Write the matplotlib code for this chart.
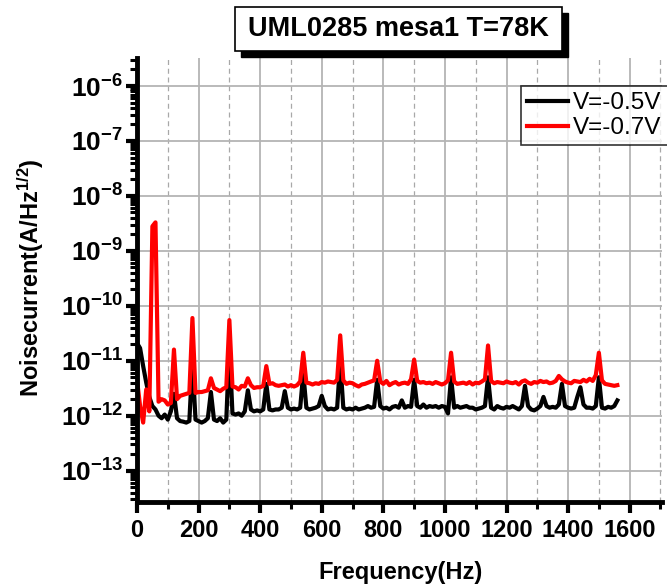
import numpy as np
import matplotlib
matplotlib.use("Agg")
import matplotlib.pyplot as plt
from matplotlib.ticker import FixedLocator, FuncFormatter, LogLocator, NullFormatter
from matplotlib.patches import Rectangle

plt.rcParams['font.family'] = ['Liberation Sans', 'DejaVu Sans']
plt.rcParams['mathtext.fontset'] = 'custom'
plt.rcParams['mathtext.rm'] = 'Liberation Sans'
plt.rcParams['mathtext.bf'] = 'Liberation Sans:bold'
plt.rcParams['mathtext.default'] = 'bf'

# ---------------- data ----------------
title = "UML0285 mesa1 T=78K"
series_labels = ["V=-0.5V", "V=-0.7V"]
series_colors = ["black", "red"]

freq_hz = np.arange(0, 1561, 10)  # sampling grid, 10 Hz step

# noise current in units of 1e-12 A/Hz^1/2
noise_v05_pA = [
    21, 17, 8, 4.0, 2.2, 1.5, 1.3, 1.0, 0.9, 1.05,            # 0-90
    0.85, 1.2, 2.5, 0.9, 0.8, 0.78, 0.75, 0.8, 10, 0.85,      # 100-190
    0.8, 0.75, 0.8, 0.9, 2.7, 0.85, 0.8, 0.9, 0.75, 0.85,     # 200-290
    20, 1.1, 1.05, 1.1, 1.0, 1.2, 2.9, 1.3, 1.2, 1.25,        # 300-390
    1.2, 1.3, 3.8, 1.3, 1.25, 1.3, 1.3, 1.4, 2.8, 1.4,        # 400-490
    1.3, 1.35, 1.3, 1.4, 6.0, 1.4, 1.3, 1.35, 1.4, 1.5,       # 500-590
    2.3, 1.5, 1.3, 1.35, 1.3, 1.4, 10, 1.4, 1.3, 1.35,        # 600-690
    1.3, 1.4, 1.3, 1.35, 1.4, 1.5, 1.4, 1.45, 4.5, 1.5,       # 700-790
    1.35, 1.4, 1.3, 1.45, 1.5, 1.4, 1.9, 1.4, 1.5, 1.45,      # 800-890
    4.5, 1.5, 1.4, 1.6, 1.4, 1.5, 1.45, 1.5, 1.4, 1.5,        # 900-990
    1.45, 1.1, 5.0, 1.4, 1.5, 1.4, 1.45, 1.5, 1.4, 1.4,       # 1000-1090
    1.3, 1.35, 1.4, 1.5, 5.0, 1.4, 1.3, 1.5, 1.4, 1.35,       # 1100-1190
    1.45, 1.4, 1.5, 1.4, 1.3, 1.5, 3.5, 1.5, 1.3, 1.25,       # 1200-1290
    1.35, 1.5, 2.2, 1.5, 1.4, 1.45, 1.4, 1.6, 3.8, 1.5,       # 1300-1390
    1.4, 1.35, 1.4, 2.2, 3.3, 1.6, 1.4, 1.4, 1.35, 1.5,       # 1400-1490
    5.0, 1.4, 1.35, 1.45, 1.4, 1.5, 1.9,                      # 1500-1560
]

noise_v07_pA = [
    4.5, 1.5, 0.75, 3.0, 1.2, 2800, 3300, 1.8, 2.0, 1.9,      # 0-90
    1.6, 1.7, 16, 2.0, 2.3, 2.4, 2.5, 2.6, 60, 2.6,           # 100-190
    2.7, 2.7, 2.8, 2.9, 4.8, 3.2, 3.0, 2.8, 3.1, 3.3,         # 200-290
    55, 3.4, 3.3, 3.0, 3.5, 3.4, 4.8, 3.6, 3.2, 3.3,          # 300-390
    3.3, 3.5, 8.0, 3.8, 3.9, 3.6, 3.5, 3.6, 3.7, 3.4,         # 400-490
    3.6, 3.4, 3.6, 4.2, 14, 4.0, 3.9, 3.7, 3.9, 3.8,          # 500-590
    4.1, 4.0, 4.2, 4.1, 4.0, 4.5, 29, 4.4, 3.8, 4.0,          # 600-690
    3.9, 3.6, 3.4, 3.7, 3.8, 4.0, 4.2, 4.4, 10, 4.2,          # 700-790
    3.8, 4.3, 3.6, 3.9, 4.1, 3.7, 3.9, 4.0, 3.8, 4.6,         # 800-890
    10.5, 4.3, 4.0, 4.1, 3.9, 4.0, 3.8, 4.1, 3.9, 3.7,        # 900-990
    3.9, 4.4, 14, 4.2, 3.8, 3.9, 4.0, 3.8, 4.1, 3.7,          # 1000-1090
    4.0, 3.9, 4.2, 4.6, 19, 4.3, 3.9, 4.1, 4.0, 3.9,          # 1100-1190
    4.2, 4.0, 3.9, 4.1, 3.7, 4.2, 4.4, 4.0, 3.8, 4.1,         # 1200-1290
    4.0, 4.3, 4.1, 4.2, 3.9, 4.0, 4.3, 5.3, 4.6, 4.2,         # 1300-1390
    4.0, 3.9, 4.3, 4.2, 4.1, 4.5, 4.2, 4.7, 4.3, 5.5,         # 1400-1490
    14, 4.4, 3.8, 3.7, 3.6, 3.5, 3.6,                         # 1500-1560
]

x_ticks = [0, 200, 400, 600, 800, 1000, 1200, 1400, 1600]
y_decades = [-13, -12, -11, -10, -9, -8, -7, -6]

# ---------------- figure ----------------
W, H = 667, 588
fig = plt.figure(figsize=(W / 100, H / 100), dpi=100)
ax = fig.add_axes([137 / W, 1 - 502 / H, (662 - 137) / W, (502 - 58) / H])

series = [noise_v05_pA, noise_v07_pA]
for vals, lab, col in zip(series, series_labels, series_colors):
    ax.plot(freq_hz, np.array(vals) * 1e-12, color=col, lw=3.0, label=lab,
            solid_joinstyle='round')

ax.set_yscale('log')
ax.set_xlim(0, 1705)
ax.set_ylim(10 ** -13.57, 10 ** -5.49)

ax.xaxis.set_major_locator(FixedLocator(x_ticks))
ax.xaxis.set_minor_locator(FixedLocator([t + 100 for t in x_ticks]))
ax.yaxis.set_major_locator(FixedLocator([10.0 ** d for d in y_decades]))
ax.yaxis.set_minor_locator(LogLocator(base=10, subs=np.arange(2, 10), numticks=20))
ax.yaxis.set_minor_formatter(NullFormatter())
ax.yaxis.set_major_formatter(FuncFormatter(
    lambda v, p: r'$\mathbf{10^{%d}}$' % int(round(np.log10(v)))))

ax.grid(True, which='major', axis='both', color='#b4b4b4', lw=1.3, ls='-', zorder=0)
ax.grid(True, which='minor', axis='x', color='#a8a8a8', lw=0.9, ls=(0, (4, 3)), zorder=0)
ax.set_axisbelow(True)

for s in ['top', 'right']:
    ax.spines[s].set_visible(False)
for s in ['left', 'bottom']:
    ax.spines[s].set_linewidth(3.5)

ax.tick_params(axis='both', which='major', direction='out', length=8, width=3)
ax.tick_params(axis='x', which='major', labelsize=17, pad=4)
ax.tick_params(axis='y', which='major', labelsize=19, pad=2)
ax.tick_params(axis='both', which='minor', direction='out', length=5, width=2.2)
for lab in ax.get_xticklabels() + ax.get_yticklabels():
    lab.set_fontweight('bold')

ax.set_xlabel('Frequency(Hz)', fontsize=17, fontweight='bold')
ax.xaxis.set_label_coords((400 - 137) / (662 - 137), -(561 - 502) / (502 - 58))
ax.set_ylabel(r'Noisecurrent(A/Hz$^{\mathbf{1/2}}$)', fontsize=17, fontweight='bold')
ax.yaxis.set_label_coords(-(137 - 46) / (662 - 137), (502 - 278) / (502 - 58))

# title box with shadow
bx0, bx1, by0, by1 = 235, 562, 7, 51
fig.patches.append(Rectangle(((bx0 + 6) / W, 1 - (by1 + 6) / H), (bx1 - bx0) / W,
                             (by1 - by0) / H, transform=fig.transFigure,
                             facecolor='black', edgecolor='black', zorder=1))
fig.patches.append(Rectangle((bx0 / W, 1 - by1 / H), (bx1 - bx0) / W,
                             (by1 - by0) / H, transform=fig.transFigure,
                             facecolor='white', edgecolor='black', lw=1.2, zorder=2))
fig.text((bx0 + bx1) / 2 / W, 1 - 29 / H, title, ha='center', va='center',
         fontsize=19.5, fontweight='bold', zorder=3)

leg = fig.legend(loc='upper left', bbox_to_anchor=(521 / W, 1 - 86 / H),
                 fontsize=17.5, frameon=True, fancybox=False, handlelength=1.7,
                 handletextpad=0.2, borderpad=0.25, labelspacing=0.12,
                 borderaxespad=0)
leg.get_frame().set_edgecolor('black')
leg.get_frame().set_linewidth(1.2)
for h in leg.legend_handles:
    h.set_linewidth(3)

fig.savefig('out.png', dpi=100)
